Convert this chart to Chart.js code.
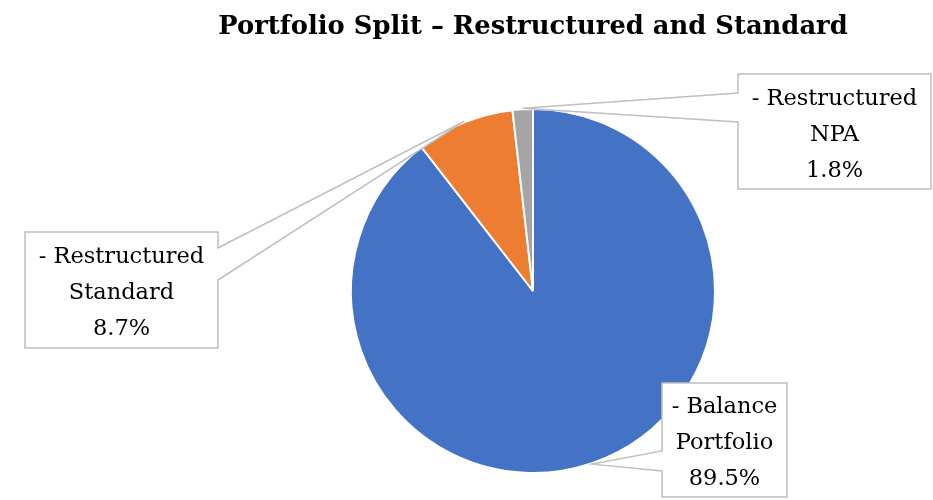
<!DOCTYPE html>
<html>
<head>
<meta charset="utf-8">
<script src="https://cdn.jsdelivr.net/npm/chart.js@4/dist/chart.umd.min.js"></script>
<style>
  html, body { margin: 0; padding: 0; background: #fff; }
  #wrap { width: 933px; height: 500px; position: relative; }
</style>
</head>
<body>
<div id="wrap"><canvas id="chart"></canvas></div>
<script>
const chartTitle = "Portfolio Split – Restructured and Standard"
const categories = [["- Balance", "Portfolio"], ["- Restructured", "Standard"], ["- Restructured", "NPA"]]
const shares = [89.5, 8.7, 1.8]
const colors = ["#4472C4", "#ED7D31", "#A5A5A5"]

// callout boxes (left, top, width, height) and where the tail leaves the box edge
const callouts = [
  { box: [662, 383, 125, 114], side: "left", tail: [68, 88] },
  { box: [25, 232, 193, 116], side: "right", tail: [16, 48] },
  { box: [738, 74, 193, 115], side: "left", tail: [19, 48] }
]

const serif = "'DejaVu Serif', 'Liberation Serif', serif"

const calloutPlugin = {
  id: "callouts",
  afterDraw(chart) {
    const ctx = chart.ctx
    const meta = chart.getDatasetMeta(0)

    ctx.save()
    // title, sized to span the same width as the original
    ctx.font = "bold 24px " + serif
    const size = 24 * 630 / ctx.measureText(chartTitle).width
    ctx.font = "bold " + size.toFixed(1) + "px " + serif
    ctx.fillStyle = "#000"
    ctx.textAlign = "center"
    ctx.textBaseline = "alphabetic"
    ctx.fillText(chartTitle, 533, 34)

    meta.data.forEach((arc, i) => {
      const c = callouts[i]
      const p = arc.getProps(["x", "y", "startAngle", "endAngle", "outerRadius"], true)
      const mid = (p.startAngle + p.endAngle) / 2
      const tipX = p.x + Math.cos(mid) * (p.outerRadius + 1)
      const tipY = p.y + Math.sin(mid) * (p.outerRadius + 1)
      const [l, t, w, h] = c.box
      const r = l + w, b = t + h

      ctx.beginPath()
      if (c.side === "left") {
        ctx.moveTo(l, t)
        ctx.lineTo(r, t)
        ctx.lineTo(r, b)
        ctx.lineTo(l, b)
        ctx.lineTo(l, t + c.tail[1])
        ctx.lineTo(tipX, tipY)
        ctx.lineTo(l, t + c.tail[0])
      } else {
        ctx.moveTo(l, t)
        ctx.lineTo(r, t)
        ctx.lineTo(r, t + c.tail[0])
        ctx.lineTo(tipX, tipY)
        ctx.lineTo(r, t + c.tail[1])
        ctx.lineTo(r, b)
        ctx.lineTo(l, b)
      }
      ctx.closePath()
      ctx.fillStyle = "#fff"
      ctx.fill()
      ctx.strokeStyle = "#BFBFBF"
      ctx.lineWidth = 1.5
      ctx.stroke()

      const lines = [...categories[i], shares[i].toFixed(1) + "%"]
      const lh = 36
      ctx.fillStyle = "#000"
      ctx.font = "22.5px " + serif
      const base = t + h / 2 + 9
      lines.forEach((s, k) => {
        ctx.fillText(s, l + w / 2, base + (k - (lines.length - 1) / 2) * lh)
      })
    })
    ctx.restore()
  }
}

new Chart(document.getElementById("chart"), {
  type: "pie",
  data: {
    labels: categories,
    datasets: [{
      data: shares,
      backgroundColor: colors,
      borderColor: "#fff",
      borderWidth: 2
    }]
  },
  options: {
    responsive: true,
    maintainAspectRatio: false,
    animation: false,
    layout: { padding: { top: 108, bottom: 26, left: 350, right: 217 } },
    plugins: {
      legend: { display: false },
      tooltip: { enabled: false },
      title: { display: false }
    }
  },
  plugins: [calloutPlugin]
})
</script>
</body>
</html>
